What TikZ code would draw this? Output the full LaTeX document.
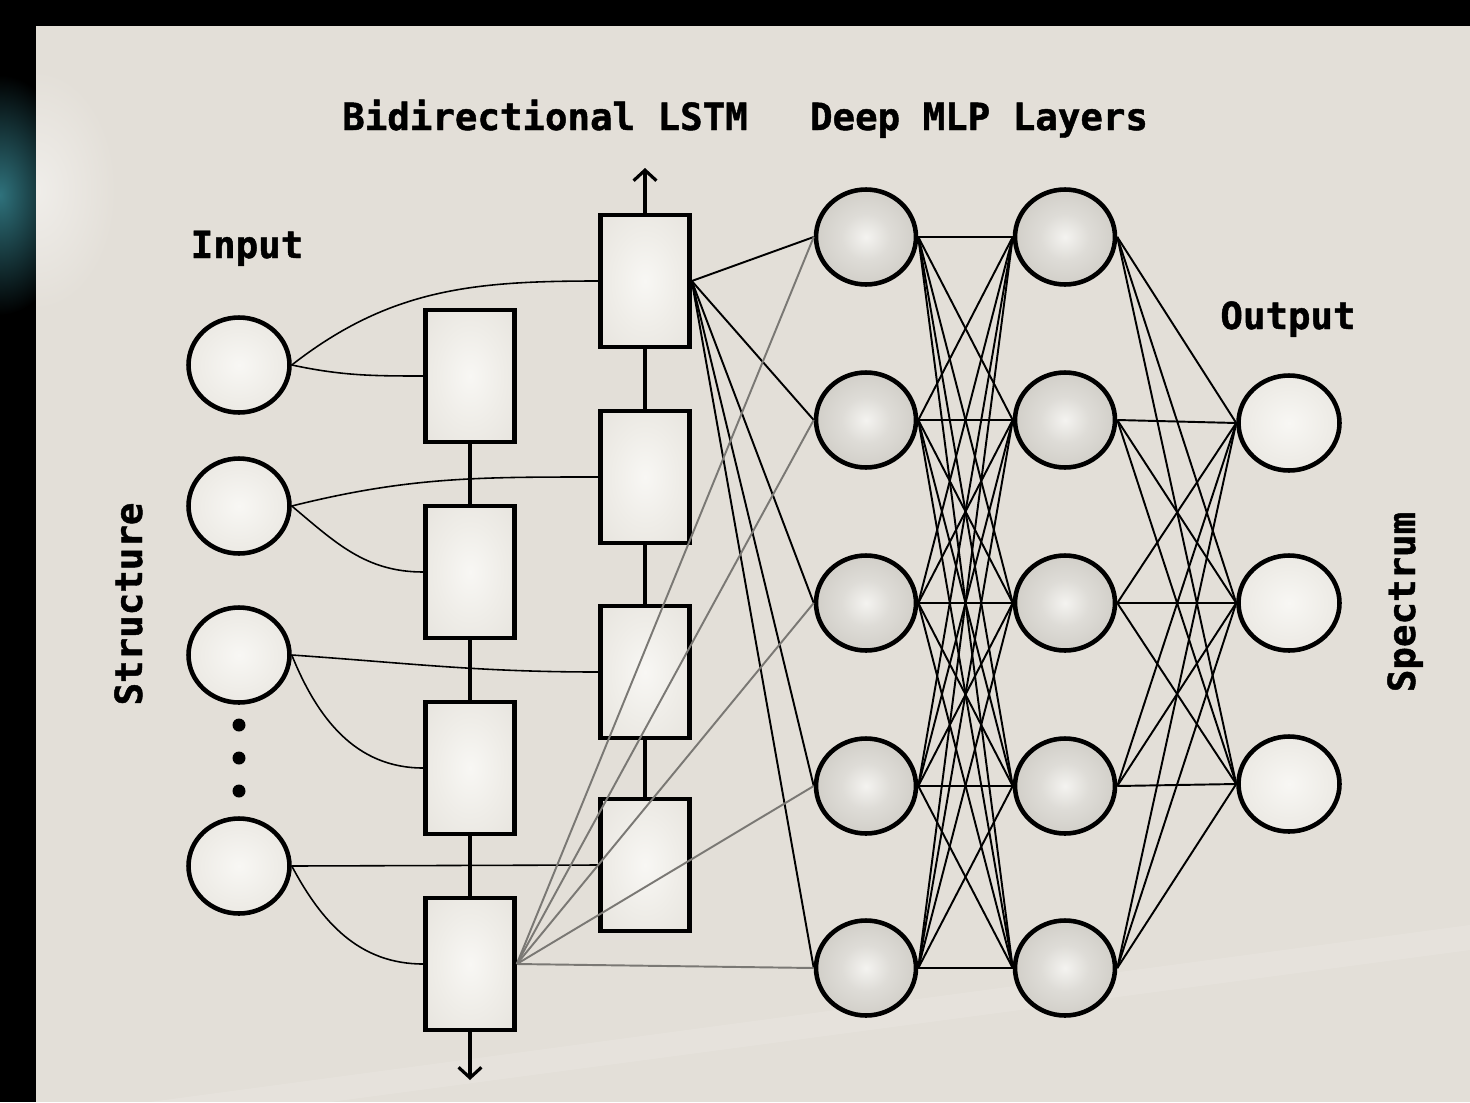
\documentclass[tikz,border=0pt]{standalone}
\usepackage{fontspec}
\newfontfamily\labfont{DejaVu Sans Mono Bold}[FakeBold=1.2]
\usetikzlibrary{shapes.geometric,arrows.meta}
\definecolor{panel}{HTML}{E3DFD8}
\definecolor{grayline}{HTML}{7A7874}
\definecolor{tealglow}{HTML}{2F727C}
\definecolor{sA}{HTML}{F8F7F4}
\definecolor{sB}{HTML}{EFEDE8}
\definecolor{sC}{HTML}{E6E3DD}
\definecolor{sD}{HTML}{E1DDD6}
\definecolor{mA}{HTML}{F4F3F0}
\definecolor{mB}{HTML}{DEDCD7}
\definecolor{mC}{HTML}{CBC8C1}
\definecolor{mD}{HTML}{C3C0B9}
\pgfdeclareradialshading{inshade}{\pgfpoint{0bp}{0bp}}{color(0bp)=(sA); color(18bp)=(sB); color(38bp)=(sC); color(50bp)=(sD)}
\pgfdeclareradialshading{mlpshade}{\pgfpoint{0bp}{0bp}}{color(0bp)=(mA); color(12bp)=(mB); color(32bp)=(mC); color(50bp)=(mD)}
\pgfdeclarelayer{bg}
\pgfsetlayers{bg,main}
\begin{document}
\begin{tikzpicture}[x=0.02cm,y=-0.02cm,
  inp/.style={ellipse, draw, line width=2.6pt, minimum width=2.02cm, minimum height=1.9cm, inner sep=0pt, shading=inshade},
  mlp/.style={ellipse, draw, line width=2.6pt, minimum width=2.0cm, minimum height=1.9cm, inner sep=0pt, shading=mlpshade},
  lstm/.style={rectangle, draw, line width=2.6pt, minimum width=1.78cm, minimum height=2.64cm, inner sep=0pt, shading=inshade},
  conn/.style={line width=0.9pt},
  mconn/.style={line width=1.1pt},
  gconn/.style={line width=1.1pt, draw=grayline},
  vlink/.style={line width=1.8pt},
  arr/.style={line width=1.8pt, -{Straight Barb[length=6pt,width=13pt]}},
  lab/.style={font=\labfont\fontsize{21.3}{26}\selectfont, inner sep=0pt},
  dot/.style={circle, fill=black, inner sep=0pt, minimum size=0.26cm}]
% background
\begin{pgfonlayer}{bg}
\fill[black] (0,0) rectangle (1470,1102);
\begin{scope}
\clip (0,0) rectangle (36,1102);
\shade[inner color=tealglow, outer color=black] (0,195) ellipse (75 and 120);
\end{scope}
\fill[panel] (36,26) rectangle (1470,1102);
\begin{scope}
\clip (36,26) rectangle (1470,1102);
\shade[inner color=white!45!panel, outer color=panel] (36,190) ellipse (80 and 120);
\fill[white, opacity=0.12] (150,1102) -- (1470,925) -- (1470,950) -- (330,1102) -- cycle;
\end{scope}
\end{pgfonlayer}
\useasboundingbox (0,0) rectangle (1470,1102);

% labels
\node[lab, anchor=base] (tl) at (545,130) {Bidirectional LSTM};
\node[lab, anchor=base] (tm) at (979,130) {Deep MLP Layers};
\node[lab, anchor=base] (ti) at (247,258) {Input};
\node[lab, anchor=base] (to) at (1288,329) {Output};
\node[lab, anchor=base, rotate=90] (ts) at (142,604) {Structure};
\node[lab, anchor=base, rotate=90] (tsp) at (1415,602) {Spectrum};

% input nodes
\node[inp] (in1) at (239,365) {};
\node[inp] (in2) at (239,506) {};
\node[inp] (in3) at (239,655) {};
\node[inp] (in4) at (239,866) {};
\node[dot] (d1) at (239,725) {};
\node[dot] (d2) at (239,758) {};
\node[dot] (d3) at (239,791) {};

% LSTM columns
\node[lstm] (L1) at (470,376) {};
\node[lstm] (L2) at (470,572) {};
\node[lstm] (L3) at (470,768) {};
\node[lstm] (L4) at (470,964) {};
\node[lstm] (R1) at (645,281) {};
\node[lstm] (R2) at (645,477) {};
\node[lstm] (R3) at (645,672) {};
\node[lstm] (R4) at (645,865) {};
\coordinate (Rup) at (645,168);
\coordinate (Ldown) at (470,1080);

% MLP layers
\foreach \i/\y in {1/237,2/420,3/603,4/786,5/968}{
  \node[mlp] (a\i) at (866,\y) {};
  \node[mlp] (b\i) at (1065,\y) {};
}
\foreach \k/\y in {1/423,2/603,3/784}{
  \node[inp] (o\k) at (1289,\y) {};
}

% edges behind nodes
\begin{pgfonlayer}{bg}
\draw[conn] (in1.east) to[out=38,in=180] (R1.west);
\draw[conn] (in1.east) to[out=-12,in=180] (L1.west);
\draw[conn] (in2.east) to[out=14,in=180] (R2.west);
\draw[conn] (in2.east) to[out=-40,in=180] (L2.west);
\draw[conn] (in3.east) to[out=-4,in=180] (R3.west);
\draw[conn] (in3.east) to[out=-68,in=180] (L3.west);
\draw[conn] (in4.east) -- (R4.west);
\draw[conn] (in4.east) to[out=-62,in=180] (L4.west);
\foreach \i in {1,...,5}{
  \foreach \j in {1,...,5}{
    \draw[mconn] (a\i.east) -- (b\j.west);
  }
  \foreach \k in {1,2,3}{
    \draw[mconn] (b\i.east) -- (o\k.west);
  }
  \draw[mconn] (R1.east) -- (a\i.west);
}
\draw[vlink] (L1.south) -- (L2.north);
\draw[vlink] (L2.south) -- (L3.north);
\draw[vlink] (L3.south) -- (L4.north);
\draw[vlink] (R1.south) -- (R2.north);
\draw[vlink] (R2.south) -- (R3.north);
\draw[vlink] (R3.south) -- (R4.north);
\end{pgfonlayer}
\draw[arr] (R1.north) -- (Rup);
\draw[arr] (L4.south) -- (Ldown);

% gray lines over boxes
\foreach \i in {1,...,5}{
  \draw[gconn] (L4.east) -- (a\i.west);
}
\end{tikzpicture}
\end{document}
